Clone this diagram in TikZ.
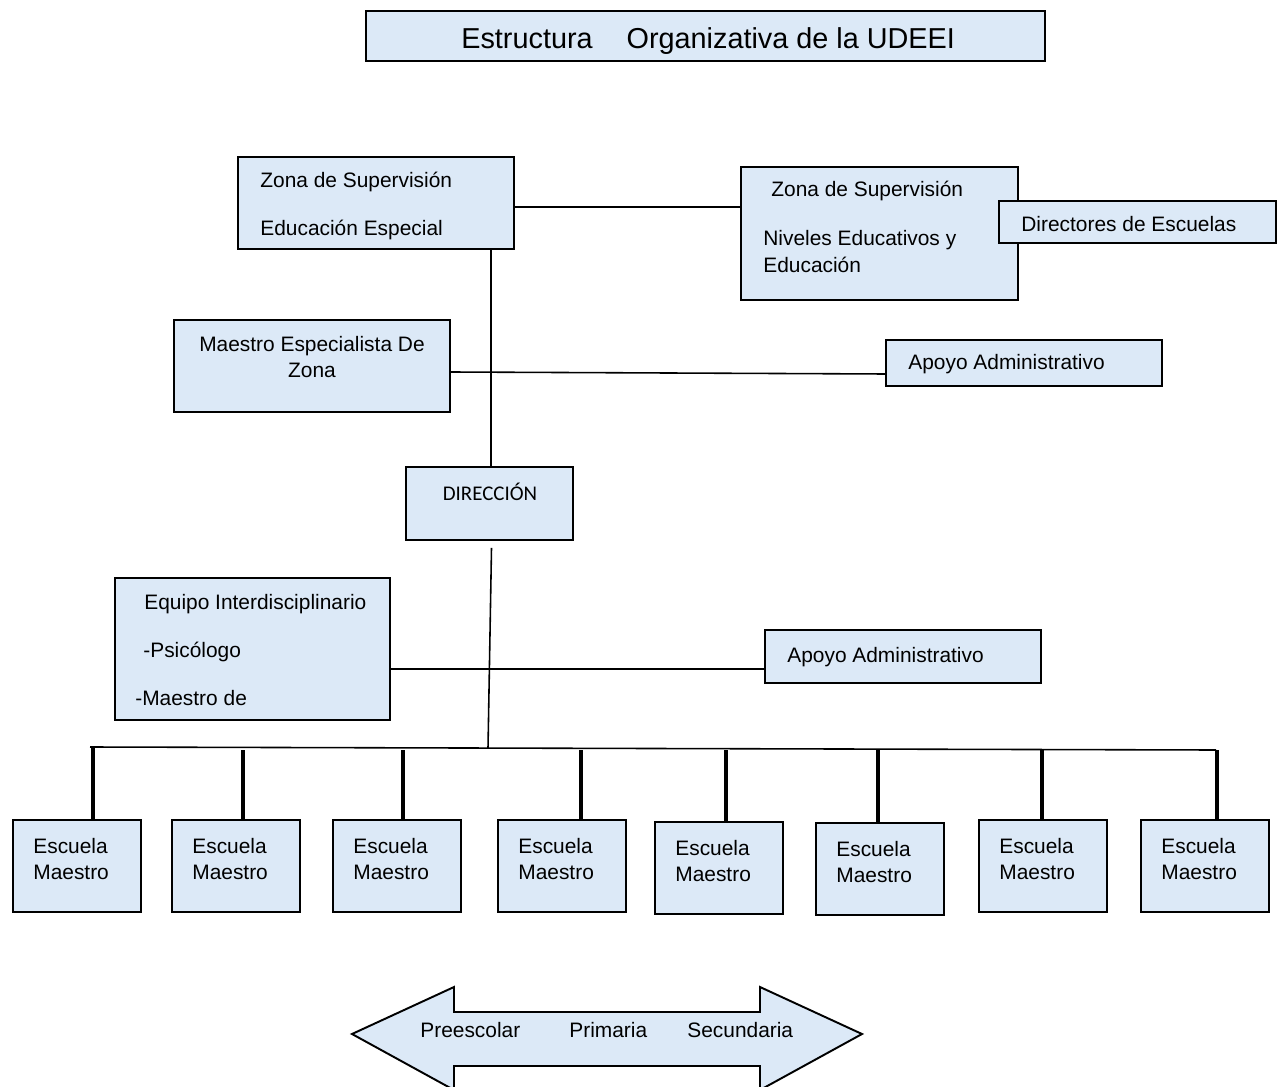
\documentclass[tikz,border=0pt]{standalone}
\usepackage{fontspec}
\setmainfont{Liberation Sans}
\newfontfamily\calib{Carlito}
\usetikzlibrary{fit}
\definecolor{boxfill}{RGB}{220,233,247}
\begin{document}
\begin{tikzpicture}[x=0.02cm,y=-0.02cm,
  box/.style={draw, line width=1.1pt, fill=boxfill, inner sep=0pt},
  txt/.style={anchor=base west, inner sep=0pt, font=\fontsize{11.9}{14}\selectfont},
  ctxt/.style={anchor=base, inner sep=0pt, font=\fontsize{11.9}{14}\selectfont},
  conn/.style={line width=0.9pt},
  drop/.style={line width=2.2pt}]
\useasboundingbox (0,0) rectangle (1277,1087);

% title
\node[box, fit={(366,11)(1045,61)}] (title) {};
\node[anchor=base west, inner sep=0pt, font=\fontsize{16.4}{19}\selectfont] (titletxt) at (461,49) {Estructura\hspace{0.68cm}Organizativa de la UDEEI};

% top boxes
\node[box, fit={(238,157)(514,249)}] (zee) {};
\node[txt] (zee1) at (260,188) {Zona de Supervisión};
\node[txt] (zee2) at (260,236) {Educación Especial};

\node[box, fit={(741,167)(1018,300)}] (zniv) {};
\node[txt] (zniv1) at (771,197) {Zona de Supervisión};
\node[txt] (zniv2) at (763,246) {Niveles Educativos y};
\node[txt] (zniv3) at (763,273) {Educación};

\node[box, fit={(999,201)(1276,243)}] (dire) {};
\node[txt] (dire1) at (1021,232) {Directores de Escuelas};

\node[box, fit={(174,320)(450,412)}] (mez) {};
\node[ctxt] (mez1) at (312,352) {Maestro Especialista De};
\node[ctxt] (mez2) at (312,378) {Zona};

\node[box, fit={(886,340)(1162,386)}] (apo1) {};
\node[txt] (apo1t) at (908,370) {Apoyo Administrativo};

\node[box, fit={(406,467)(573,540)}] (dir) {};
\node[anchor=base, inner sep=0pt, font=\calib\fontsize{11.9}{14}\selectfont] (dirt) at (490,500) {DIRECCIÓN};

\node[box, fit={(115,578)(390,720)}] (equ) {};
\node[txt] (equ1) at (144,609) {Equipo Interdisciplinario};
\node[txt] (equ2) at (143,657) {-Psicólogo};
\node[txt] (equ3) at (135,705) {-Maestro de};

\node[box, fit={(765,630)(1041,683)}] (apo2) {};
\node[txt] (apo2t) at (787,662) {Apoyo Administrativo};

% escuela boxes
\foreach \i/\xl/\yt/\dx in {1/13/820/93, 2/172/820/243, 3/333/820/403, 4/498/820/581, 5/655/822/726, 6/816/823/878, 7/979/820/1042, 8/1141/820/1217}{
  \node[box, fit={(\xl,\yt)(\xl+128,\yt+92)}] (e\i) {};
  \node[txt] (e\i a) at (\xl+20,\yt+33) {Escuela};
  \node[txt] (e\i b) at (\xl+20,\yt+59) {Maestro};
  \coordinate (d\i) at (\dx,750);
}

% connectors
\draw[conn] ([yshift=-0.08cm]zee.east) -- ([yshift=-0.08cm]zee.east -| zniv.west);
\draw[conn] ([xshift=0.03cm]dir.north |- zee.south) -- ([xshift=0.03cm]dir.north);
\draw[conn] ([yshift=-0.12cm]mez.east) -- ([yshift=-0.22cm]apo1.west);
\coordinate (bl) at (90,747);
\coordinate (br) at (1216,750);
\coordinate (bj) at (488,748);
\draw[conn] ([xshift=0.04cm,yshift=-0.14cm]dir.south) -- (bj);
\draw[conn] ([yshift=-0.4cm]equ.east) -- ([yshift=-0.25cm]apo2.west);
\draw[conn] (bl) -- (br);
\draw[drop] (d1) ++(0,-2) -- (d1 |- e1.north);
\foreach \i in {2,...,8}{
  \draw[drop] (d\i) -- (d\i |- e\i.north);
}

% double arrow
\draw[line width=1.1pt, fill=boxfill, line join=miter]
  (352,1034) -- (454,987) -- (454,1012) -- (760,1012) -- (760,987) -- (862,1034)
  -- (760,1090) -- (760,1066) -- (454,1066) -- (454,1090) -- cycle;
\node[txt] (pre) at (420,1037) {Preescolar};
\node[txt] (pri) at (569,1037) {Primaria};
\node[txt] (sec) at (687,1037) {Secundaria};
\end{tikzpicture}
\end{document}
